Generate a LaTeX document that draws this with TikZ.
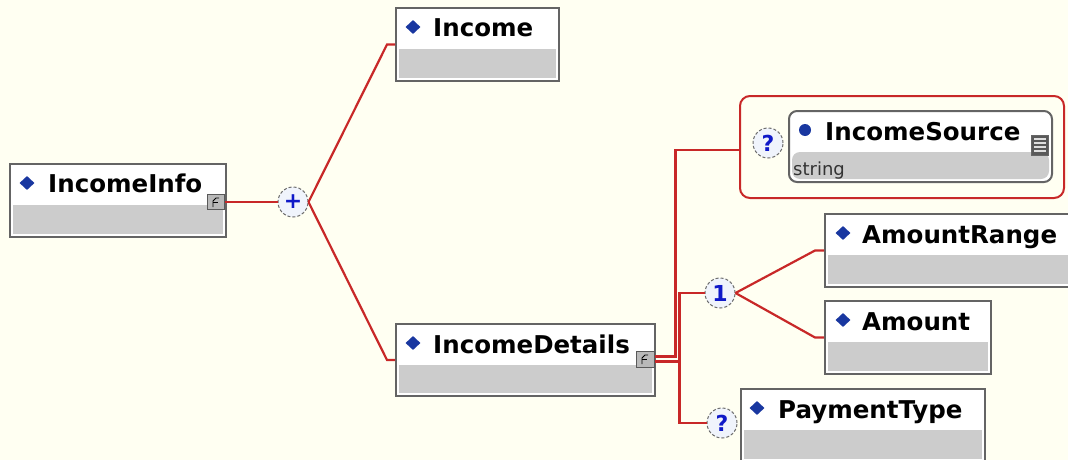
\documentclass[tikz,border=0pt]{standalone}
\usepackage{fontspec}
\setmainfont{DejaVu Sans}
\usetikzlibrary{shapes.geometric}
\definecolor{bg}{RGB}{255,255,242}
\definecolor{linered}{RGB}{200,40,40}
\definecolor{boxborder}{RGB}{100,100,100}
\definecolor{band}{RGB}{204,204,204}
\definecolor{dblue}{RGB}{25,55,160}
\definecolor{symblue}{RGB}{15,25,200}
\definecolor{circfill}{RGB}{240,244,252}
\begin{document}
\begin{tikzpicture}[x=1pt,y=-1pt,
  elbox/.style={draw=boxborder, line width=2pt, fill=white, anchor=north west, inner sep=0pt, minimum height=73pt,
    path picture={\fill[band] ([shift={(3pt,3pt)}]path picture bounding box.south west) rectangle ([shift={(-3pt,-41pt)}]path picture bounding box.north east);}},
  elname/.style={anchor=base west, inner sep=0pt, font=\bfseries\fontsize{24.5}{29}\selectfont},
  typename/.style={anchor=base west, inner sep=0pt, text=black!80, font=\fontsize{18}{20}\selectfont},
  diam/.style={diamond, fill=dblue, inner sep=0pt, minimum width=15pt, minimum height=14pt},
  comp/.style={circle, draw=gray!85!black, densely dashed, line width=1pt, fill=circfill, minimum size=30pt, inner sep=0pt, text=symblue, font=\bfseries\fontsize{22}{22}\selectfont},
  conn/.style={draw=linered, line width=2.2pt},
  cticon/.style={draw=black!65, line width=1pt, fill=gray!55, minimum width=17pt, minimum height=15pt, inner sep=0pt},
  glyph/.style={draw=black, line width=0.8pt},
  grp/.style={draw=linered, line width=2pt, rounded corners=10pt, anchor=north west, inner sep=0pt}
]
\fill[bg] (0,0) rectangle (1068,460);
\clip (0,0) rectangle (1068,460);
\useasboundingbox (0,0) rectangle (1068,460);

% IncomeInfo
\node[elbox, minimum width=216pt] (incomeinfo) at (9,163) {};
\node[diam] (d1) at ([shift={(18pt,-20pt)}]incomeinfo.north west) {};
\node[elname] (t1) at ([shift={(39pt,-29pt)}]incomeinfo.north west) {IncomeInfo};
\node[cticon] (iiicon) at (216,202) {};
\draw[glyph] ([shift={(-3pt,-5pt)}]iiicon.center) -- ([shift={(-3pt,1pt)}]iiicon.center) -- ([shift={(0pt,4pt)}]iiicon.center) -- ([shift={(3pt,4pt)}]iiicon.center);
\draw[glyph] ([shift={(-3pt,0pt)}]iiicon.center) -- ([shift={(2pt,0pt)}]iiicon.center);

% sequence/all compositor
\node[comp] (plus) at (293,202) {+};

% Income
\node[elbox, minimum width=163pt] (income) at (395,7) {};
\node[diam] (d2) at ([shift={(18pt,-20pt)}]income.north west) {};
\node[elname] (t2) at ([shift={(38pt,-30pt)}]income.north west) {Income};

% IncomeDetails
\node[elbox, minimum width=259pt, minimum height=72pt] (incomedetails) at (395,323) {};
\node[diam] (d3) at ([shift={(18pt,-20pt)}]incomedetails.north west) {};
\node[elname] (t3) at ([shift={(38pt,-30pt)}]incomedetails.north west) {IncomeDetails};
\node[cticon, minimum width=18pt, minimum height=16pt] (idicon) at (645,359) {};
\draw[glyph] ([shift={(-3pt,-5pt)}]idicon.center) -- ([shift={(-3pt,1pt)}]idicon.center) -- ([shift={(0pt,4pt)}]idicon.center) -- ([shift={(3pt,4pt)}]idicon.center);
\draw[glyph] ([shift={(-3pt,0pt)}]idicon.center) -- ([shift={(2pt,0pt)}]idicon.center);

% IncomeSource group
\node[grp, minimum width=324pt, minimum height=102pt] (isgroup) at (739,95) {};
\node[comp] (q1) at (768,143) {?};
\node[elbox, rounded corners=8pt, minimum width=263pt, minimum height=71pt] (incomesource) at (788,110) {};
\node[circle, fill=dblue, inner sep=0pt, minimum size=12pt] (d4) at ([shift={(17pt,-20pt)}]incomesource.north west) {};
\node[elname] (t4) at ([shift={(37pt,-30pt)}]incomesource.north west) {IncomeSource};
\node[typename] (t4b) at ([shift={(5pt,-65pt)}]incomesource.north west) {string};
\node[draw=black!60, fill=black!65, minimum width=17pt, minimum height=20pt, inner sep=0pt] (listicon) at (1040,145) {};
\foreach \k in {-6,-2,2,6} \draw[white!75!gray, line width=1.2pt] ([shift={(-6pt,\k pt)}]listicon.center) -- ([shift={(6pt,\k pt)}]listicon.center);

% choice
\node[comp] (one) at (720,293) {1};
\node[elbox, minimum width=270pt] (amountrange) at (824,213) {};
\node[diam] (d5) at ([shift={(19pt,-20pt)}]amountrange.north west) {};
\node[elname] (t5) at ([shift={(38pt,-30pt)}]amountrange.north west) {AmountRange};
\node[elbox, minimum width=166pt] (amount) at (824,300) {};
\node[diam] (d6) at ([shift={(19pt,-20pt)}]amount.north west) {};
\node[elname] (t6) at ([shift={(38pt,-30pt)}]amount.north west) {Amount};

% PaymentType
\node[comp] (q2) at (722,423) {?};
\node[elbox, minimum width=244pt] (paymenttype) at (740,388) {};
\node[diam] (d7) at ([shift={(17pt,-20pt)}]paymenttype.north west) {};
\node[elname] (t7) at ([shift={(38pt,-30pt)}]paymenttype.north west) {PaymentType};

% connectors
\draw[conn] (iiicon.east) -- (plus.west);
\draw[conn] (plus.east) -- ([xshift=-8pt]income.west) -- (income.west);
\draw[conn] (plus.east) -- ([xshift=-8pt]incomedetails.west) -- (incomedetails.west);
\draw[conn] ([yshift=2.5pt]idicon.east) -- ++(21pt,0) |- ([yshift=-3pt]isgroup.west);
\draw[conn] ([yshift=-2.5pt]idicon.east) -- ++(25pt,0) |- (one.west);
\draw[conn] ([yshift=-2.5pt]idicon.east) -- ++(25pt,0) |- (q2.west);
\draw[conn] (one.east) -- ([xshift=-9pt]amountrange.west) -- (amountrange.west);
\draw[conn] (one.east) -- ([xshift=-9pt]amount.west) -- (amount.west);
\end{tikzpicture}
\end{document}
